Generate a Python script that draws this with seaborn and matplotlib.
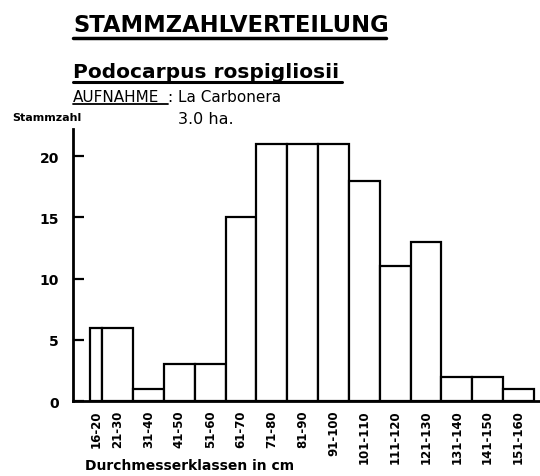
import pandas as pd
import matplotlib
matplotlib.use("Agg")
import matplotlib.pyplot as plt
from matplotlib.lines import Line2D
import seaborn as sns

# diameter classes (cm) and tree counts per class
klassen = ["16-20", "21-30", "31-40", "41-50", "51-60", "61-70", "71-80", "81-90",
           "91-100", "101-110", "111-120", "121-130", "131-140", "141-150", "151-160"]
kanten = [17, 21, 31, 41, 51, 61, 71, 81, 91, 101, 111, 121, 131, 141, 151, 161]
stammzahl = [6, 6, 1, 3, 3, 15, 21, 21, 21, 18, 11, 13, 2, 2, 1]

sns.set_style("ticks")
plt.rcParams['font.family'] = ['DejaVu Sans']
plt.rcParams['text.color'] = 'black'
plt.rcParams['xtick.color'] = 'black'
plt.rcParams['ytick.color'] = 'black'
plt.rcParams['axes.edgecolor'] = 'black'

mitten = [(a + b) / 2 for a, b in zip(kanten[:-1], kanten[1:])]
df = pd.DataFrame({"mitte": mitten, "n": stammzahl})

fig = plt.figure(figsize=(5.4, 4.77), dpi=100)
ax = fig.add_axes([0.135, 0.157, 0.865, 0.570])

sns.histplot(data=df, x="mitte", weights="n", bins=kanten, stat="count",
             color="white", edgecolor="black", linewidth=1.6, alpha=1, ax=ax)

ax.set_xlim(11.5, 163)
ax.set_ylim(0, 22.2)
ax.set_yticks([0, 5, 10, 15, 20])
ax.set_yticklabels(["0", "5", "10", "15", "20"], fontsize=10, fontweight="bold")
ax.set_xticks(mitten)
ax.set_xticklabels(klassen, rotation=90, fontsize=8.5, fontweight="bold")
ax.tick_params(axis="y", direction="in", length=8, width=1.6, pad=10)
ax.tick_params(axis="x", length=0, pad=6)
ax.set_ylabel("")
ax.set_xlabel("")
for s in ["top", "right"]:
    ax.spines[s].set_visible(False)
for s in ["left", "bottom"]:
    ax.spines[s].set_linewidth(2)

# header texts
fig.text(0.135, 0.933, "STAMMZAHLVERTEILUNG", fontsize=16.3, fontweight="bold", va="baseline")
fig.add_artist(Line2D([0.135, 0.715], [0.918, 0.918], color="black", lw=2.5))
fig.text(0.135, 0.836, "Podocarpus rospigliosii", fontsize=14.5, fontweight="bold", va="baseline")
fig.add_artist(Line2D([0.135, 0.633], [0.827, 0.827], color="black", lw=2.2))
fig.text(0.135, 0.786, "AUFNAHME", fontsize=11, va="baseline")
fig.add_artist(Line2D([0.135, 0.311], [0.779, 0.779], color="black", lw=1.3))
fig.text(0.312, 0.786, ": La Carbonera", fontsize=11, va="baseline")
fig.text(0.33, 0.740, "3.0 ha.", fontsize=11.5, va="baseline")
fig.text(0.022, 0.746, "Stammzahl", fontsize=8, fontweight="bold", va="baseline")
fig.text(0.157, 0.023, "Durchmesserklassen in cm", fontsize=10, fontweight="bold",
         va="center")

fig.savefig("out.png", dpi=100, facecolor="white")
